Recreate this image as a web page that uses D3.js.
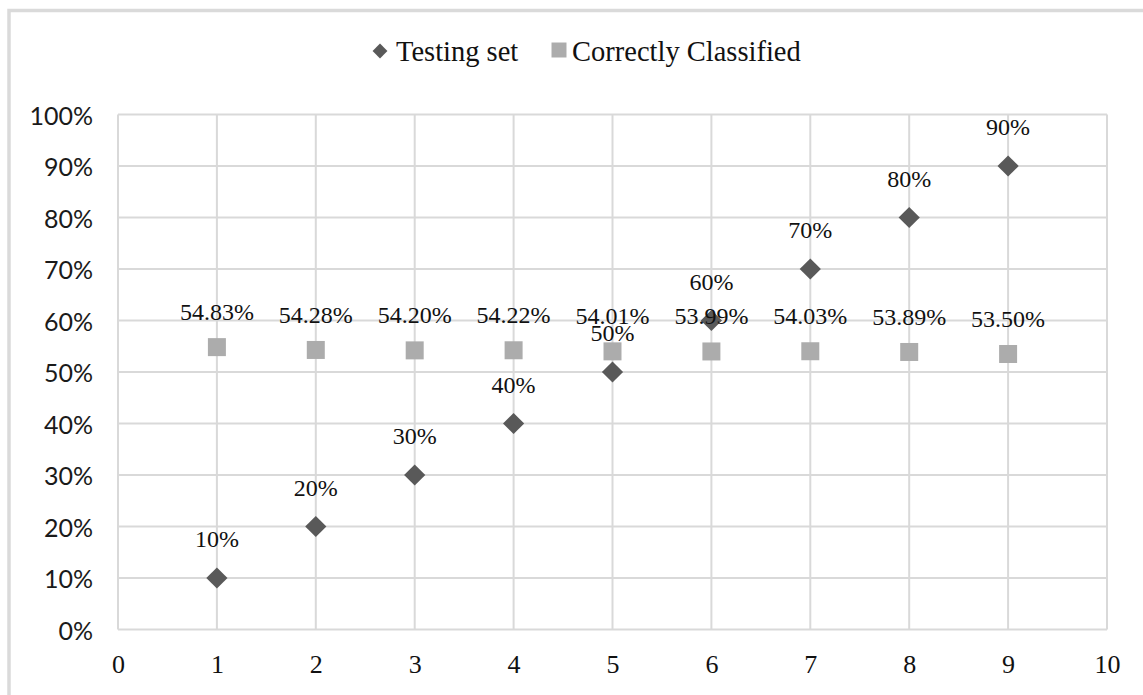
<!DOCTYPE html>
<html>
<head>
<meta charset="utf-8">
<script src="https://cdn.jsdelivr.net/npm/d3@7"></script>
<style>
  html, body { margin: 0; padding: 0; background: #fff; }
  svg { display: block; }
</style>
</head>
<body>
<svg id="chart" width="1143" height="695"></svg>
<script>
// Run index (x) for each point
const runs = [1, 2, 3, 4, 5, 6, 7, 8, 9];
// Share of data used as testing set
const testingSet = [0.10, 0.20, 0.30, 0.40, 0.50, 0.60, 0.70, 0.80, 0.90];
// Share of testing records classified correctly
const correctlyClassified = [0.5483, 0.5428, 0.5420, 0.5422, 0.5401, 0.5399, 0.5403, 0.5389, 0.5350];
const xTicks = [0, 1, 2, 3, 4, 5, 6, 7, 8, 9, 10];
const yTicks = [0, 0.1, 0.2, 0.3, 0.4, 0.5, 0.6, 0.7, 0.8, 0.9, 1.0];
const seriesNames = ["Testing set", "Correctly Classified"];

const svg = d3.select("#chart");
const W = 1143, H = 695;
const serif = "'Liberation Serif', 'Times New Roman', serif";
const sans = "Lato, 'Open Sans', sans-serif";

// outer chart frame
svg.append("rect")
  .attr("x", 9).attr("y", 10.5)
  .attr("width", W + 20).attr("height", H + 20)
  .attr("fill", "none").attr("stroke", "#dadada").attr("stroke-width", 3.5);

const x = d3.scaleLinear().domain([0, 10]).range([118, 1107]);
const y = d3.scaleLinear().domain([0, 1]).range([629.5, 114.5]);

// gridlines
const grid = svg.append("g").attr("stroke", "#d9d9d9").attr("stroke-width", 2);
grid.selectAll("line.h").data(yTicks).join("line")
  .attr("x1", x(0)).attr("x2", x(10))
  .attr("y1", d => y(d)).attr("y2", d => y(d));
grid.selectAll("line.v").data(xTicks).join("line")
  .attr("y1", y(0)).attr("y2", y(1))
  .attr("x1", d => x(d)).attr("x2", d => x(d));

// y axis labels
const yAxis = d3.axisLeft(y).tickValues(yTicks).tickFormat(d3.format(".0%")).tickSize(0).tickPadding(25);
svg.append("g").attr("transform", `translate(${x(0)},0)`).call(yAxis)
  .call(g => g.select(".domain").remove())
  .selectAll("text")
  .attr("font-family", sans).attr("font-size", 25).attr("fill", "#1a1a1a")
  .attr("dy", "0.38em");

// x axis labels
const xAxis = d3.axisBottom(x).tickValues(xTicks).tickFormat(d3.format("d")).tickSize(0);
svg.append("g").attr("transform", `translate(0,${y(0)})`).call(xAxis)
  .call(g => g.select(".domain").remove())
  .selectAll("text")
  .attr("y", 34).attr("dy", "0.35em")
  .attr("font-family", serif).attr("font-size", 26).attr("fill", "#111");

const diamond = d3.symbol().type(d3.symbolSquare).size(15 * 15);
const square = d3.symbol().type(d3.symbolSquare).size(18 * 18);
const diamondColor = "#595959";
const squareColor = "#acacac";

// Correctly Classified markers
svg.append("g").selectAll("path").data(runs).join("path")
  .attr("d", square)
  .attr("transform", (d, i) => `translate(${x(d)},${y(correctlyClassified[i])})`)
  .attr("fill", squareColor);

// Testing set markers
svg.append("g").selectAll("path").data(runs).join("path")
  .attr("d", diamond)
  .attr("transform", (d, i) => `translate(${x(d)},${y(testingSet[i])}) rotate(45)`)
  .attr("fill", diamondColor);

// data labels
svg.append("g").selectAll("text").data(runs).join("text")
  .attr("x", d => x(d))
  .attr("y", (d, i) => y(correctlyClassified[i]) - 27)
  .attr("text-anchor", "middle")
  .attr("font-family", serif).attr("font-size", 24).attr("fill", "#111")
  .text((d, i) => d3.format(".2%")(correctlyClassified[i]));

svg.append("g").selectAll("text").data(runs).join("text")
  .attr("x", d => x(d))
  .attr("y", (d, i) => y(testingSet[i]) - 31)
  .attr("text-anchor", "middle")
  .attr("font-family", serif).attr("font-size", 24).attr("fill", "#111")
  .text((d, i) => d3.format(".0%")(testingSet[i]));

// legend
const legend = svg.append("g").attr("font-family", serif).attr("font-size", 28.5).attr("fill", "#111");
legend.append("path").attr("d", d3.symbol().type(d3.symbolSquare).size(10.5 * 10.5))
  .attr("transform", "translate(380,51) rotate(45)").attr("fill", diamondColor);
legend.append("text").attr("x", 396).attr("y", 61).text(seriesNames[0]);
legend.append("path").attr("d", d3.symbol().type(d3.symbolSquare).size(15 * 15))
  .attr("transform", "translate(559,50)").attr("fill", squareColor);
legend.append("text").attr("x", 572).attr("y", 61).text(seriesNames[1]);
</script>
</body>
</html>
